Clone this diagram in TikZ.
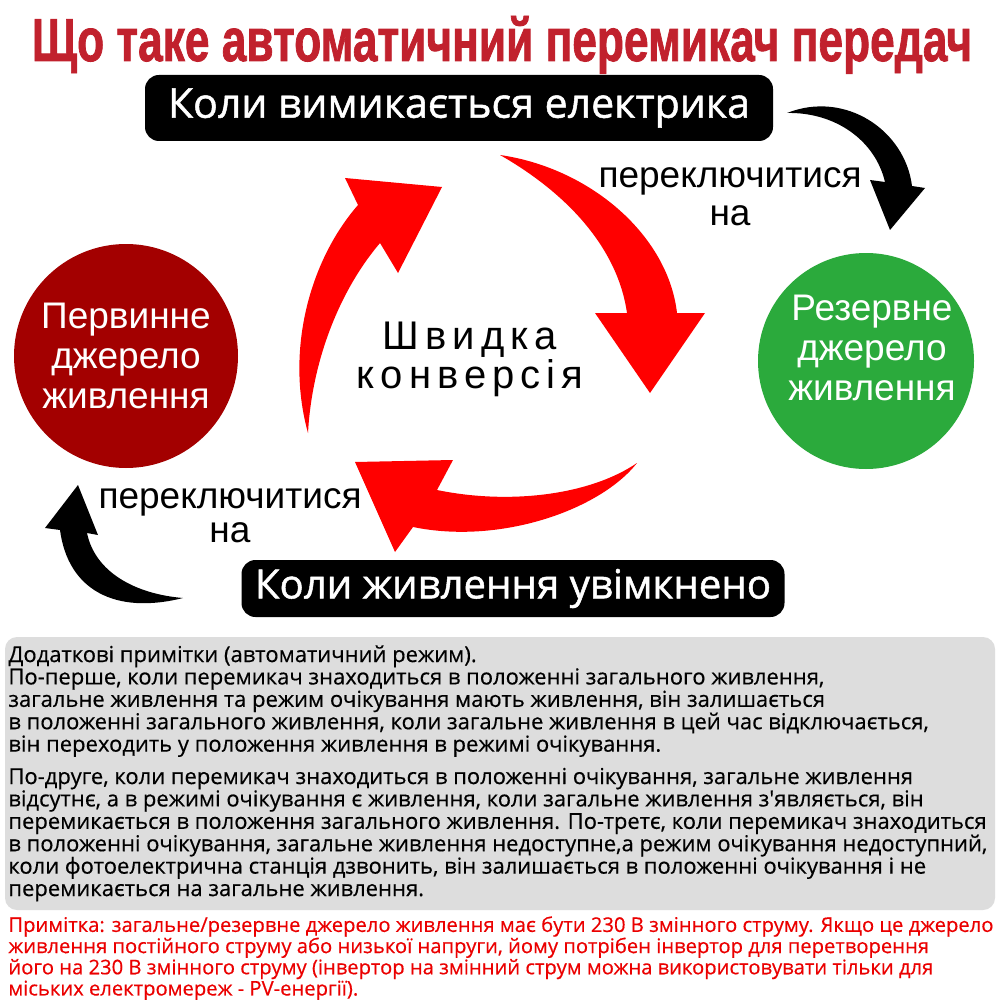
\documentclass[tikz,border=0pt]{standalone}
\usepackage{fontspec}
\usepackage{graphicx}
\usepackage{tikz}
\usetikzlibrary{shapes,arrows}
\setmainfont{Liberation Sans}
\newfontfamily\titlefont[FakeBold=1.5]{Liberation Sans}
\newfontfamily\boxfont[FakeBold=1.2]{Open Sans}
\newfontfamily\spacedfont[LetterSpace=15]{Liberation Sans}
\newfontfamily\notefont[FakeBold=0.4]{Open Sans}

\definecolor{titlered}{RGB}{193,33,45}
\definecolor{arrowred}{RGB}{255,0,0}
\definecolor{primaryred}{RGB}{163,0,0}
\definecolor{backupgreen}{RGB}{43,170,60}
\definecolor{notegray}{RGB}{221,221,221}
\definecolor{notered}{RGB}{235,0,0}

\begin{document}
\begin{tikzpicture}[x=0.5pt, y=-0.5pt]
        % Styles
        \tikzstyle{banner} = [rectangle, fill=black, text=white, rounded corners=7pt, inner sep=0pt]
        \tikzstyle{source} = [circle, text=white, align=center, inner sep=0pt, minimum size=112pt, font=\fontsize{18.5}{20}\selectfont]
        \tikzstyle{switchlabel} = [align=center, inner sep=0pt, font=\fontsize{18.5}{19}\selectfont]
        \tikzstyle{redarrow} = [fill=arrowred]
        \tikzstyle{blackarrow} = [fill=black]
        \tikzstyle{notes} = [align=left, anchor=north west, inner sep=0pt]

        \fill[white] (0,0) rectangle (1000,1000);
        \useasboundingbox (0,0) rectangle (1000,1000);

        % Nodes
        \node [anchor=base, text=titlered, inner sep=0pt] (title) at (502,61) {\resizebox{470pt}{22.5pt}{\titlefont\bfseries Що таке автоматичний перемикач передач}};
        \node [banner, minimum width=314pt, minimum height=33pt] (off) at (459,108) {\resizebox{291pt}{!}{\boxfont Коли вимикається електрика}};
        \node [banner, minimum width=271.5pt, minimum height=28.5pt] (on) at (513,588.5) {\resizebox{258pt}{!}{\boxfont Коли живлення увімкнено}};
        \node [source, fill=primaryred] (primary) at (126,356) {Первинне\\джерело\\живлення};
        \node [source, fill=backupgreen, minimum size=108pt] (backup) at (866,361) {};
        \node [source, fill=none, minimum size=0pt] (backuptext) at (872,348) {Резервне\\джерело\\живлення};
        \node [align=center, inner sep=0pt, font=\spacedfont\fontsize{20}{16}\selectfont] (fast) at (470,359) {Швидка\\конверсія};

        % Edges
        \fill [redarrow] (500,155) .. controls (590,168) and (668,235) .. (677,313) -- (705,313) -- (650,393) -- (595,313) -- (627,313) .. controls (618,250) and (570,195) .. (500,155) -- cycle;
        \fill [redarrow] (637,463) .. controls (600,510) and (500,545) .. (413,527) -- (395,552) -- (355,462) -- (453,460) -- (437,490) .. controls (510,505) and (590,495) .. (637,463) -- cycle;
        \fill [redarrow] (308,433) .. controls (285,350) and (310,260) .. (358,205) -- (345,178) -- (442,187) -- (398,273) -- (380,243) .. controls (340,290) and (312,360) .. (308,433) -- cycle;
        \fill [blackarrow] (787,113) .. controls (845,90) and (905,130) .. (912,186) -- (925,188) -- (890,230) -- (870,180) -- (885,182) .. controls (875,140) and (835,112) .. (787,113) -- cycle;
        \fill [blackarrow] (183,598) .. controls (115,615) and (68,590) .. (60,530) -- (45,528) -- (78,485) -- (98,535) -- (87,533) .. controls (95,572) and (135,594) .. (183,598) -- cycle;

        % Labels
        \node [switchlabel] (tobackup) at (730,197) {переключитися\\на};
        \node [switchlabel, font=\fontsize{18.5}{17}\selectfont] (toprimary) at (230,516) {переключитися\\на};

        % Notes
        \node [fill=notegray, rounded corners=6pt, minimum width=495pt, minimum height=136.5pt, inner sep=0pt] (notebox) at (500,773.5) {};
        \node [notes, font=\notefont\fontsize{11}{11.2}\selectfont] (notetext) at (8,645) {Додаткові примітки (автоматичний режим).\\
По-перше, коли перемикач знаходиться в положенні загального живлення,\\
загальне живлення та режим очікування мають живлення, він залишається\\
в положенні загального живлення, коли загальне живлення в цей час відключається,\\
він переходить у положення живлення в режимі очікування.\\[5pt]
По-друге, коли перемикач знаходиться в положенні очікування, загальне живлення\\
відсутнє, а в режимі очікування є живлення, коли загальне живлення з'являється, він\\
перемикається в положення загального живлення. По-третє, коли перемикач знаходиться\\
в положенні очікування, загальне живлення недоступне,а режим очікування недоступний,\\
коли фотоелектрична станція дзвонить, він залишається в положенні очікування і не\\
перемикається на загальне живлення.};
        \node [notes, text=notered, font=\notefont\fontsize{10.1}{10.6}\selectfont] (footnote) at (8,916) {Примітка: загальне/резервне джерело живлення має бути 230 В змінного струму. Якщо це джерело\\
живлення постійного струму або низької напруги, йому потрібен інвертор для перетворення\\
його на 230 В змінного струму (інвертор на змінний струм можна використовувати тільки для\\
міських електромереж - PV-енергії).};
\end{tikzpicture}
\end{document}
